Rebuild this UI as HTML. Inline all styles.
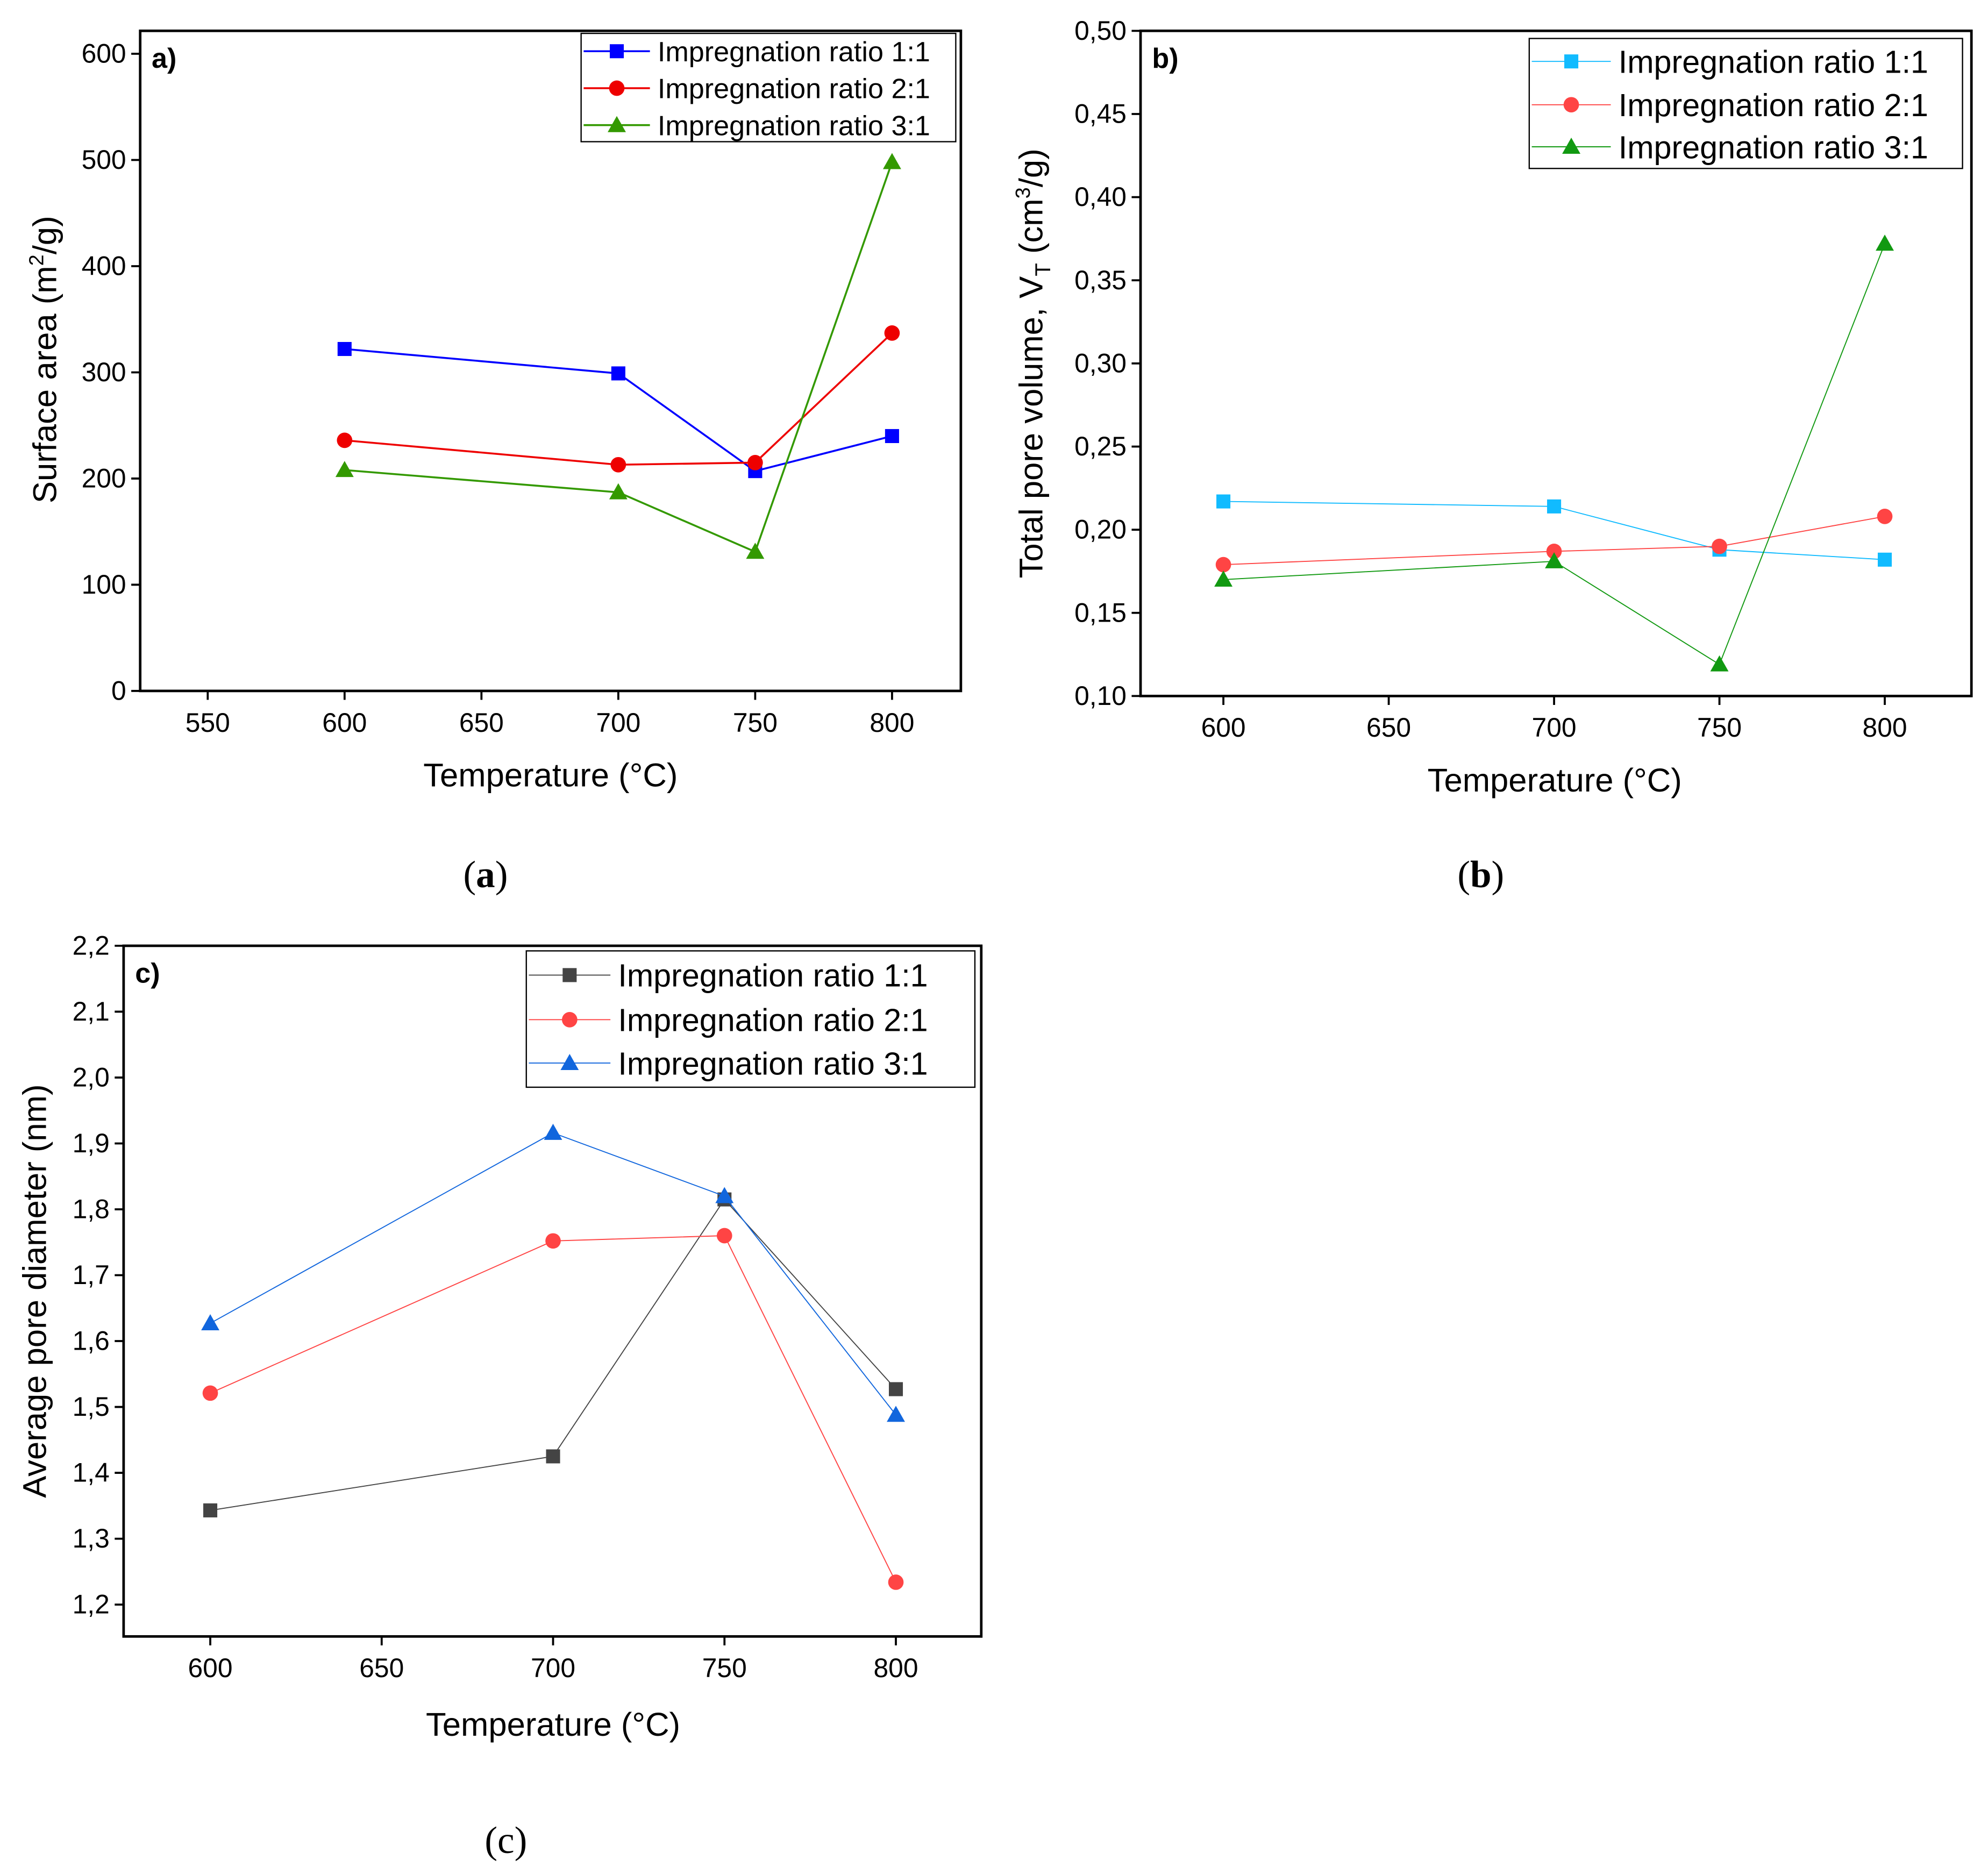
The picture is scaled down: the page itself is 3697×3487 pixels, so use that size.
<!DOCTYPE html>
<html><head><meta charset="utf-8"><style>html,body{margin:0;padding:0;background:#fff}svg{display:block}</style></head>
<body>
<svg id="fig" xmlns="http://www.w3.org/2000/svg" width="3697" height="3487" viewBox="0 0 1560 1471" font-family="Liberation Sans, sans-serif">
<rect width="1560" height="1471" fill="#fff"/>
</svg>
<script>
const xCats=[600,700,750,800];
const aS1=[322,299,207,240], aS2=[236,213,215,337], aS3=[208,187,131,498];
const bS1=[0.217,0.214,0.188,0.182], bS2=[0.179,0.187,0.190,0.208], bS3=[0.170,0.181,0.119,0.372];
const cS1=[1.343,1.425,1.815,1.527], cS2=[1.521,1.752,1.760,1.234], cS3=[1.627,1.916,1.820,1.488];
const aYTicks=[0,100,200,300,400,500,600], aXTicks=[550,600,650,700,750,800];
const bYTicks=[0.10,0.15,0.20,0.25,0.30,0.35,0.40,0.45,0.50], bXTicks=[600,650,700,750,800];
const cYTicks=[1.2,1.3,1.4,1.5,1.6,1.7,1.8,1.9,2.0,2.1,2.2], cXTicks=[600,650,700,750,800];
const legendLabels=["Impregnation ratio 1:1","Impregnation ratio 2:1","Impregnation ratio 3:1"];
const NS="http://www.w3.org/2000/svg", svg=document.getElementById('fig');
function mk(tag,attrs,parent,text){const e=document.createElementNS(NS,tag);for(const k in attrs)e.setAttribute(k,attrs[k]);if(text!==undefined)e.textContent=text;(parent||svg).appendChild(e);return e;}
function marker(g,type,x,y,color,s){
 let m;
 if(type==='sq') m=mk('rect',{x:x-s,y:y-s,width:2*s,height:2*s,fill:color},g);
 else if(type==='ci') m=mk('circle',{cx:x,cy:y,r:s*1.1,fill:color},g);
 else m=mk('polygon',{points:`${x},${y-s*1.3} ${x-s*1.3},${y+s} ${x+s*1.3},${y+s}`,fill:color},g);
 return m;
}
function panel(p){
 const g=mk('g',{});
 
 
 const X=v=>p.x0+(v-p.xa)*(p.x1-p.x0)/(p.xb-p.xa);
 const Y=v=>p.y0+(v-p.ya)*(p.y1-p.y0)/(p.yb-p.ya);
 mk('rect',{x:p.L,y:p.T,width:p.R-p.L,height:p.B-p.T,fill:'none',stroke:'#000','stroke-width':2},g);
 p.yt.forEach(t=>{const y=Y(t);mk('line',{x1:p.L-7,x2:p.L,y1:y,y2:y,stroke:'#000','stroke-width':1.6},g);
  const tx=mk('text',{x:p.L-11,y:y+7,'text-anchor':'end','font-size':p.fs},g,p.fmtY(t));
  });
 p.xt.forEach(t=>{const x=X(t);mk('line',{x1:x,x2:x,y1:p.B,y2:p.B+7,stroke:'#000','stroke-width':1.6},g);
  const tx=mk('text',{x:x,y:p.B+p.fs+11,'text-anchor':'middle','font-size':p.fs},g,String(t));
  });
 const xt=mk('text',{x:p.xtx,y:p.xty,'text-anchor':'middle','font-size':26},g,'Temperature (°C)');
 
 const yt=mk('text',{transform:`translate(${p.ytx},${p.yty}) rotate(-90)`,'text-anchor':'middle','font-size':26},g);
 yt.innerHTML=p.ytitle;
 
 const pl=mk('text',{x:p.L+9,y:p.T+29,'font-size':22,'font-weight':'bold'},g,p.label);
 
 const cap=mk('text',{x:p.capx,y:p.capy,'text-anchor':'middle','font-size':30,'font-family':'Liberation Serif, serif'},g);
 cap.innerHTML=p.cap;
 
 const types=['sq','ci','tr'];
 p.series.forEach((s,i)=>{
  const sg=mk('g',{},g);
  
  
  mk('polyline',{points:xCats.map((c,j)=>X(c)+','+Y(s[j])).join(' '),fill:'none',stroke:p.colors[i],'stroke-width':p.lw},sg);
  xCats.forEach((c,j)=>{const m=marker(sg,types[i],X(c),Y(s[j]),p.colors[i],p.ms);
   });
 });
 const lg=mk('g',{},g);
 
 
 mk('rect',{x:p.lg[0],y:p.lg[1],width:p.lg[2]-p.lg[0],height:p.lg[3]-p.lg[1],fill:'#fff',stroke:'#000','stroke-width':1},lg);
 legendLabels.forEach((t,i)=>{const y=p.ly[i];const x=p.lg[0];
  mk('line',{x1:x+2,x2:x+p.lw2,y1:y,y2:y,stroke:p.colors[i],'stroke-width':p.lw},lg);
  marker(lg,types[i],x+p.lw2/2+1,y,p.colors[i],p.ms);
  const e=mk('text',{x:x+p.lw2+6,y:y+p.lfs*0.36,'font-size':p.lfs},lg,t);
  });
}
panel({name:'panel-a-surface-area',L:110,R:754,T:24,B:542,xa:550,xb:800,x0:163,x1:700,ya:0,yb:600,y0:542,y1:42,
 yt:aYTicks,xt:aXTicks,fmtY:t=>String(t),fs:21,xtx:432,xty:617,ytx:44,yty:282,
 ytitle:'Surface area (m<tspan dy="-10" font-size="16">2</tspan><tspan dy="10">/g)</tspan>',label:'a)',capx:381,capy:696,cap:'(<tspan font-weight="bold">a</tspan>)',
 series:[aS1,aS2,aS3],colors:['#0000ff','#ee0000','#339900'],lw:1.5,ms:5.5,lg:[456,26,750,111],ly:[40,69,98],lw2:54,lfs:22});
panel({name:'panel-b-pore-volume',L:895,R:1547,T:24,B:546,xa:600,xb:800,x0:960,x1:1479,ya:0.1,yb:0.5,y0:546,y1:24,
 yt:bYTicks,xt:bXTicks,fmtY:t=>t.toFixed(2).replace('.',','),fs:21,xtx:1220,xty:621,ytx:818,yty:285,
 ytitle:'Total pore volume, V<tspan dy="6" font-size="17">T</tspan><tspan dy="-6"> (cm</tspan><tspan dy="-10" font-size="16">3</tspan><tspan dy="10">/g)</tspan>',label:'b)',capx:1162,capy:696,cap:'(<tspan font-weight="bold">b</tspan>)',
 series:[bS1,bS2,bS3],colors:['#11bbff','#ff4444','#119911'],lw:0.8,ms:5.5,lg:[1200,30,1540,132],ly:[48,82,115],lw2:64,lfs:25});
panel({name:'panel-c-pore-diameter',L:97,R:770,T:742,B:1284,xa:600,xb:800,x0:165,x1:703,ya:1.2,yb:2.2,y0:1259,y1:742,
 yt:cYTicks,xt:cXTicks,fmtY:t=>t.toFixed(1).replace('.',','),fs:21,xtx:434,xty:1362,ytx:36,yty:1013,
 ytitle:'Average pore diameter (nm)',label:'c)',capx:397,capy:1454,cap:'(c)',
 series:[cS1,cS2,cS3],colors:['#444444','#ff4444','#1166dd'],lw:0.8,ms:5.5,lg:[413,746,765,853],ly:[765,800,834],lw2:66,lfs:25});
</script>
</body></html>
